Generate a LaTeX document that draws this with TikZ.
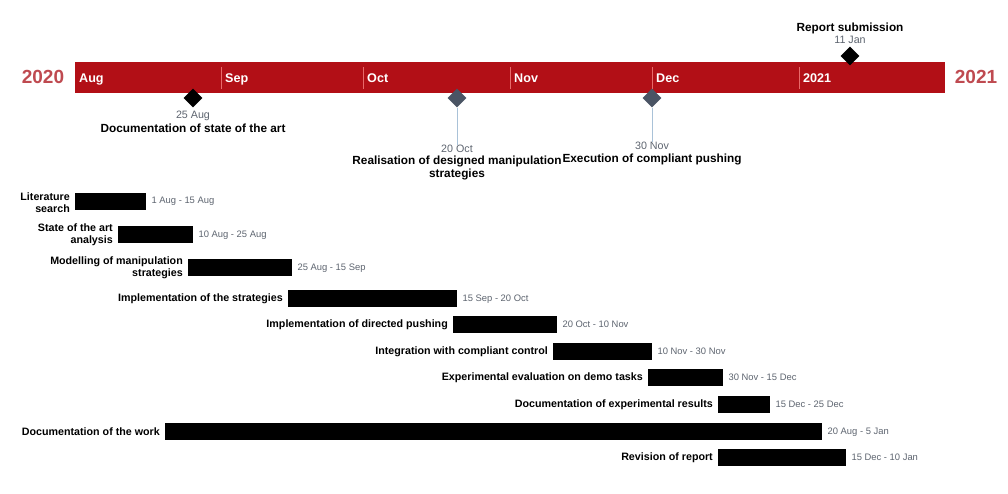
\documentclass[tikz,border=0pt]{standalone}
\usepackage{fontspec}
\setmainfont{Liberation Sans}
\usetikzlibrary{shapes.geometric}
\definecolor{barred}{HTML}{B20F16}
\definecolor{yearred}{HTML}{BF4A50}
\definecolor{seppink}{HTML}{E86A6A}
\definecolor{slate}{HTML}{4A5464}
\definecolor{stemblue}{HTML}{A9C2D8}
\definecolor{dategray}{HTML}{5E6570}
\tikzset{
  taskbar/.style={fill=black, draw=none, inner sep=0pt, anchor=north west},
  tasklbl/.style={font=\bfseries\fontsize{10.7}{12}\selectfont, anchor=east, align=right, inner sep=0pt, text=black},
  datelbl/.style={font=\fontsize{9.4}{11}\selectfont, anchor=west, inner sep=0pt, text=dategray},
  monthlbl/.style={font=\bfseries\fontsize{12.6}{14}\selectfont, text=white, anchor=base west, inner sep=0pt},
  yearlbl/.style={font=\bfseries\fontsize{19}{21}\selectfont, text=yearred, inner sep=0pt},
  msdiamond/.style={shape=diamond, aspect=1, minimum size=19pt, inner sep=0pt, draw=none},
  msdate/.style={font=\fontsize{10.7}{12}\selectfont, text=dategray, inner sep=0pt},
  mstitle/.style={font=\bfseries\fontsize{11.8}{12.5}\selectfont, text=black, inner sep=0pt, align=center},
  monthsep/.style={draw=seppink, line width=1pt},
  stem/.style={draw=stemblue, line width=1pt}
}
\begin{document}
\begin{tikzpicture}[x=1pt,y=-1pt]
\useasboundingbox (0,0) rectangle (1008,493);
\fill[white] (0,0) rectangle (1008,493);

% timeline band
\node[fill=barred, minimum width=870pt, minimum height=31pt, inner sep=0pt, anchor=north west] (tl) at (75,62) {};
\foreach \x in {221,363,510,652,799} \draw[monthsep] (\x,67) -- (\x,89);
\node[monthlbl] (mAug) at (79,82) {Aug};
\node[monthlbl] (mSep) at (225,82) {Sep};
\node[monthlbl] (mOct) at (367,82) {Oct};
\node[monthlbl] (mNov) at (514,82) {Nov};
\node[monthlbl] (mDec) at (656,82) {Dec};
\node[monthlbl] (m21) at (803,82) {2021};
\node[yearlbl] (y2020) at (43,77) {2020};
\node[yearlbl] (y2021) at (976,77) {2021};

% milestones
\node[msdiamond, fill=black] (ms1) at (193,98) {};
\node[msdate] (ms1d) at (193,116) {25 Aug};
\node[mstitle] (ms1t) at (193,128) {Documentation of state of the art};

\node[msdiamond, fill=slate] (ms2) at (457,98) {};
\node[msdate] (ms2d) at (457,149) {20 Oct};
\node[mstitle] (ms2t) at (457,168) {Realisation of designed manipulation\\strategies};
\draw[stem] (ms2.south) -- (ms2d.north);

\node[msdiamond, fill=slate] (ms3) at (652,98) {};
\node[msdate] (ms3d) at (652,146) {30 Nov};
\node[mstitle] (ms3t) at (652,159) {Execution of compliant pushing};
\draw[stem] (ms3.south) -- (ms3d.north);

\node[msdiamond, fill=black] (ms4) at (850,56) {};
\node[msdate] (ms4d) at (850,40) {11 Jan};
\node[mstitle] (ms4t) at (850,28) {Report submission};

% tasks
\node[taskbar, minimum width=71pt, minimum height=17pt] (b1) at (75,193) {};
\node[tasklbl] (l1) at ([xshift=-5pt,yshift=-0.5pt]b1.west) {Literature\\search};
\node[datelbl] (d1) at ([xshift=5pt]b1.east) {1 Aug - 15 Aug};

\node[taskbar, minimum width=75pt, minimum height=17pt] (b2) at (118,226) {};
\node[tasklbl] (l2) at ([xshift=-5pt,yshift=-0.5pt]b2.west) {State of the art\\analysis};
\node[datelbl] (d2) at ([xshift=5pt]b2.east) {10 Aug - 25 Aug};

\node[taskbar, minimum width=104pt, minimum height=17pt] (b3) at (188,259) {};
\node[tasklbl] (l3) at ([xshift=-5pt,yshift=-0.5pt]b3.west) {Modelling of manipulation\\strategies};
\node[datelbl] (d3) at ([xshift=5pt]b3.east) {25 Aug - 15 Sep};

\node[taskbar, minimum width=169pt, minimum height=17pt] (b4) at (288,290) {};
\node[tasklbl] (l4) at ([xshift=-5pt]b4.west) {Implementation of the strategies};
\node[datelbl] (d4) at ([xshift=5pt]b4.east) {15 Sep - 20 Oct};

\node[taskbar, minimum width=104pt, minimum height=17pt] (b5) at (453,316) {};
\node[tasklbl] (l5) at ([xshift=-5pt]b5.west) {Implementation of directed pushing};
\node[datelbl] (d5) at ([xshift=5pt]b5.east) {20 Oct - 10 Nov};

\node[taskbar, minimum width=99pt, minimum height=17pt] (b6) at (553,343) {};
\node[tasklbl] (l6) at ([xshift=-5pt]b6.west) {Integration with compliant control};
\node[datelbl] (d6) at ([xshift=5pt]b6.east) {10 Nov - 30 Nov};

\node[taskbar, minimum width=75pt, minimum height=17pt] (b7) at (648,369) {};
\node[tasklbl] (l7) at ([xshift=-5pt]b7.west) {Experimental evaluation on demo tasks};
\node[datelbl] (d7) at ([xshift=5pt]b7.east) {30 Nov - 15 Dec};

\node[taskbar, minimum width=52pt, minimum height=17pt] (b8) at (718,396) {};
\node[tasklbl] (l8) at ([xshift=-5pt]b8.west) {Documentation of experimental results};
\node[datelbl] (d8) at ([xshift=5pt]b8.east) {15 Dec - 25 Dec};

\node[taskbar, minimum width=657pt, minimum height=17pt] (b9) at (165,423) {};
\node[tasklbl] (l9) at ([xshift=-5pt]b9.west) {Documentation of the work};
\node[datelbl] (d9) at ([xshift=5pt]b9.east) {20 Aug - 5 Jan};

\node[taskbar, minimum width=128pt, minimum height=17pt] (b10) at (718,449) {};
\node[tasklbl] (l10) at ([xshift=-5pt]b10.west) {Revision of report};
\node[datelbl] (d10) at ([xshift=5pt]b10.east) {15 Dec - 10 Jan};
\end{tikzpicture}
\end{document}
